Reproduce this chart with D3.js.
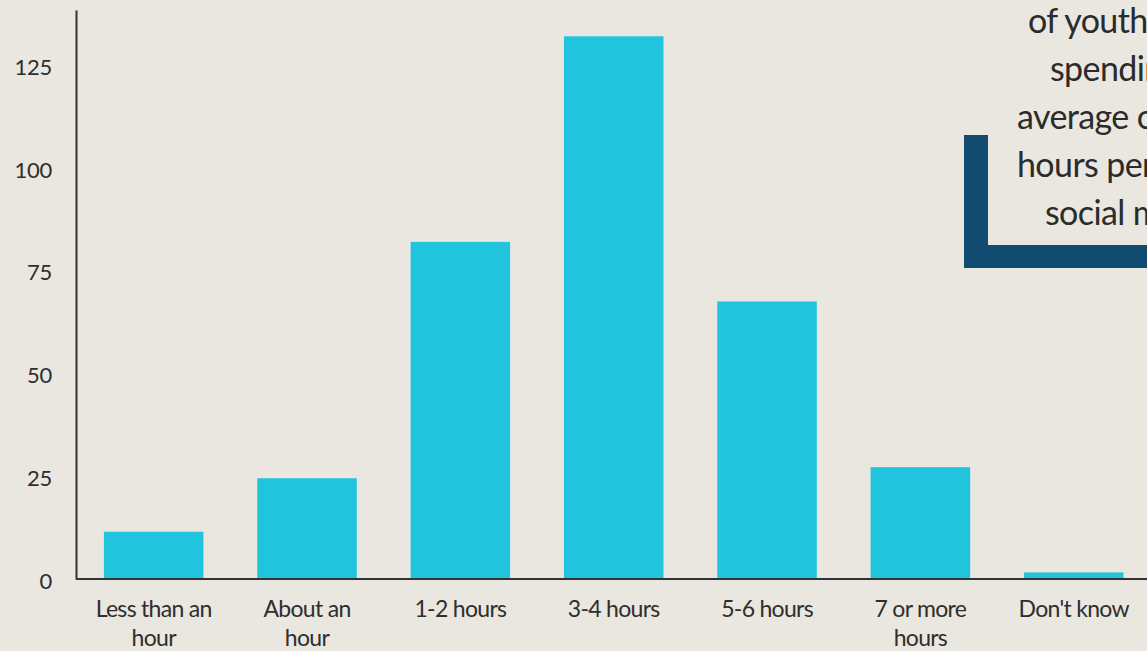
<!DOCTYPE html>
<html>
<head>
<meta charset="utf-8">
<script src="https://cdn.jsdelivr.net/npm/d3@7"></script>
<style>
  html, body { margin: 0; padding: 0; background: #eae6e0; overflow: hidden; }
  svg { display: block; font-family: Lato, "Open Sans", sans-serif; }
</style>
</head>
<body>
<div id="chart"></div>
<script>
// datos
var categorias = ["Less than an|hour", "About an|hour", "1-2 hours", "3-4 hours", "5-6 hours", "7 or more|hours", "Don't know"];
var valores = [11.5, 24.5, 82, 132, 67.5, 27.2, 1.6];
var ticksY = [0, 25, 50, 75, 100, 125];
var notaLineas = ["of youth", "spending", "average of", "hours per", "social media"];

var W = 1147, H = 651;
var svg = d3.select("#chart").append("svg").attr("width", W).attr("height", H);

var x = d3.scaleBand()
    .domain(categorias)
    .range([77, 1150.4])
    .paddingInner(0.351)
    .paddingOuter(0.1755);

var y = d3.scaleLinear()
    .domain([0, 138.4])
    .range([579, 10]);

// barras
svg.selectAll(".bar")
    .data(valores)
    .enter().append("rect")
    .attr("class", "bar")
    .attr("x", function (d, i) { return x(categorias[i]); })
    .attr("y", function (d) { return y(d); })
    .attr("width", x.bandwidth())
    .attr("height", function (d) { return y(0) - y(d); })
    .attr("fill", "#20c4dc");

// eje y
var yAxis = svg.append("g")
    .attr("transform", "translate(76,0)")
    .call(d3.axisLeft(y).tickValues(ticksY).tickSize(0).tickPadding(24));
yAxis.attr("font-size", null).attr("font-family", null);
yAxis.select(".domain").attr("stroke", "#333").attr("stroke-width", 2);
yAxis.selectAll("text")
    .style("font-size", "22px")
    .attr("fill", "#2e2e2e")
    .attr("dy", "0.42em")
    .attr("letter-spacing", "-0.3px");

// eje x
var xAxis = svg.append("g")
    .attr("transform", "translate(0," + y(0) + ")")
    .call(d3.axisBottom(x).tickSize(0).tickPadding(0));
xAxis.attr("font-size", null).attr("font-family", null);
xAxis.select(".domain").attr("d", "M76,0H" + W).attr("stroke", "#333").attr("stroke-width", 2);
xAxis.selectAll("text").each(function (d) {
    var t = d3.select(this).text("").attr("y", 0).attr("dy", null)
        .style("font-size", "23px").attr("fill", "#2e2e2e")
        .attr("letter-spacing", "-0.7px");
    d.split("|").forEach(function (linea, k) {
        t.append("tspan").attr("x", 0).attr("y", 38 + k * 29).text(linea);
    });
});

// recuadro de la nota
var marco = svg.append("g");
marco.append("rect").attr("x", 964).attr("y", 135).attr("width", 24).attr("height", 133).attr("fill", "#124b70");
marco.append("rect").attr("x", 964).attr("y", 245).attr("width", W - 964).attr("height", 23).attr("fill", "#124b70");

var notaX = [1028, 1050, 1017, 1017, 1045];
svg.append("g").selectAll("text")
    .data(notaLineas)
    .enter().append("text")
    .attr("x", function (d, i) { return notaX[i]; })
    .attr("y", function (d, i) { return 33 + i * 48; })
    .style("font-size", "34px")
    .attr("fill", "#2b2b2b")
    .attr("letter-spacing", "-0.6px")
    .text(function (d) { return d; });
</script>
</body>
</html>
